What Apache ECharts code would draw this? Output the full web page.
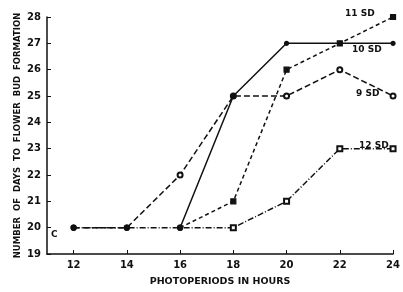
<!DOCTYPE html>
<html><head><meta charset="utf-8">
<script src="https://cdn.jsdelivr.net/npm/echarts@6/dist/echarts.min.js"></script>
<style>html,body{margin:0;padding:0;background:#fff}#c{width:403px;height:292px}</style>
</head><body><div id="c"></div>
<script>
const hours = [12, 14, 16, 18, 20, 22, 24];
const sd9  = [20, 20, 22, 25, 25, 26, 25];
const sd10 = [null, null, 20, 25, 27, 27, 27];
const sd11 = [null, null, 20, 21, 26, 27, 28];
const sd12 = [20, 20, 20, 20, 21, 23, 23];
const xTicks = [12, 14, 16, 18, 20, 22, 24];
const seriesNames = ['9 SD', '10 SD', '11 SD', '12 SD'];

const pair = arr => hours.map((h, i) => [h, arr[i]]).filter(p => p[1] != null);
const font = 'DejaVu Sans';
const chart = echarts.init(document.getElementById('c'));
// shared short-day baseline points (12-16 h) are drawn as filled dots
const symFor = sym => (v => (v[0] <= 16 && v[1] === 20) ? 'circle' : sym);
const base = (name, data, dash, sym, size) => ({
  name, type: 'line', data: pair(data), symbol: symFor(sym), symbolSize: size, showAllSymbol: true,
  lineStyle: { color: '#111', width: 1.5, type: dash },
  itemStyle: { color: '#111', borderColor: '#111', borderWidth: 1.2 },
  animation: false, z: 3
});
chart.setOption({
  animation: false,
  grid: { left: 47, right: 8, top: 17, bottom: 29 },
  xAxis: {
    type: 'value', min: 11, max: 24,
    axisLine: { lineStyle: { color: '#111', width: 1.5 } },
    axisTick: { inside: true, length: 4, customValues: xTicks, lineStyle: { color: '#111' } },
    axisLabel: { customValues: xTicks, color: '#111', fontFamily: font, fontWeight: 'bold', fontSize: 10, margin: 6 },
    splitLine: { show: false },
    name: 'PHOTOPERIODS IN HOURS', nameLocation: 'middle', nameGap: 23, nameMoveOverlap: false,
    nameTextStyle: { color: '#111', fontFamily: font, fontSize: 9.5, fontWeight: 'bold' }
  },
  yAxis: {
    type: 'value', min: 19, max: 28, interval: 1,
    axisLine: { show: true, lineStyle: { color: '#111', width: 1.5 } },
    axisTick: { show: true, inside: true, length: 4, lineStyle: { color: '#111' } },
    axisLabel: { color: '#111', fontFamily: font, fontWeight: 'bold', fontSize: 10, margin: 6 },
    splitLine: { show: false },
    name: 'NUMBER  OF  DAYS  TO  FLOWER  BUD  FORMATION', nameLocation: 'middle', nameGap: 25, nameMoveOverlap: false,
    nameTextStyle: { color: '#111', fontFamily: font, fontSize: 8.5, fontWeight: 'bold' }
  },
  series: [
    base(seriesNames[0], sd9, [6, 3], 'emptyCircle', 5),
    base(seriesNames[1], sd10, 'solid', 'circle', 4),
    base(seriesNames[2], sd11, [4, 3], 'rect', 5),
    base(seriesNames[3], sd12, [6, 2, 1, 2], 'emptyRect', 5)
  ],
  graphic: [
    { type: 'text', left: 345, top: 9, style: { text: seriesNames[2], font: 'bold 9px DejaVu Sans', fill: '#111' } },
    { type: 'text', left: 352, top: 45, style: { text: seriesNames[1], font: 'bold 9px DejaVu Sans', fill: '#111' } },
    { type: 'text', left: 356, top: 89, style: { text: seriesNames[0], font: 'bold 9px DejaVu Sans', fill: '#111' } },
    { type: 'text', left: 359, top: 141, style: { text: seriesNames[3], font: 'bold 9px DejaVu Sans', fill: '#111' } },
    { type: 'text', left: 51, top: 230, style: { text: 'C', font: 'bold 9px DejaVu Sans', fill: '#111' } }
  ]
});
</script></body></html>
